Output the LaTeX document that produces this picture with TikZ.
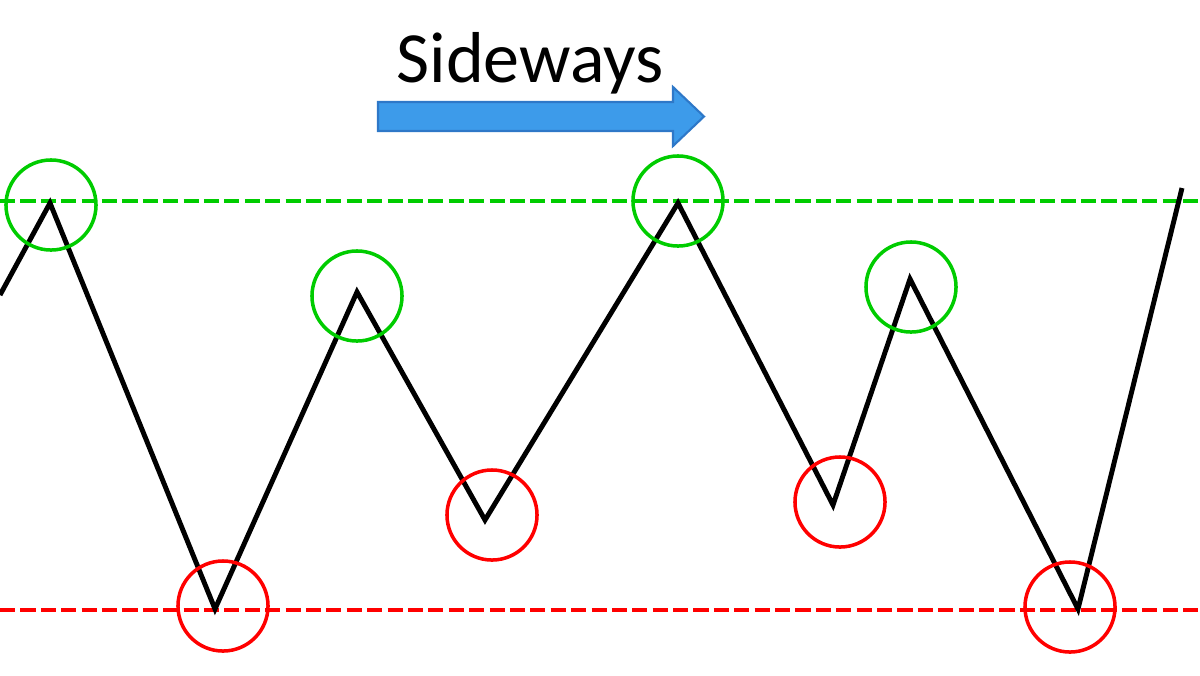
\documentclass[tikz,border=0pt]{standalone}
\usepackage{fontspec}
\setmainfont{Carlito}
\definecolor{hi}{HTML}{00CC00}
\definecolor{lo}{HTML}{FF0000}
\definecolor{arrowfill}{HTML}{3D9BEA}
\definecolor{arrowline}{HTML}{2E78C8}

\begin{document}
\begin{tikzpicture}[x=0.01cm,y=-0.01cm,
    price/.style={line width=1.4pt,line join=miter},
    level/.style={line width=1.15pt,dash pattern=on 4.3pt off 1.5pt},
    ring/.style={circle,line width=1pt,minimum size=0.9cm,inner sep=0pt}]
\useasboundingbox (0,0) rectangle (1200,675);

% support and resistance
\draw[level,hi] (0,201) -- (1200,201);
\draw[level,lo] (0,610) -- (1200,610);

% price path
\coordinate (p0) at (0,295);
\coordinate (h1) at (50,203);
\coordinate (l1) at (215,609);
\coordinate (h2) at (357,292);
\coordinate (l2) at (485,520);
\coordinate (h3) at (678,203);
\coordinate (l3) at (833,505);
\coordinate (h4) at (910,279);
\coordinate (l4) at (1078,609);
\coordinate (p9) at (1182,188);
\draw[price] (p0) -- (h1) -- (l1) -- (h2) -- (l2) -- (h3) -- (l3) -- (h4) -- (l4) -- (p9);

% highs and lows
\node[ring,draw=hi] (c_h1) at (51,205) {};
\node[ring,draw=hi] (c_h2) at (357,296) {};
\node[ring,draw=hi] (c_h3) at (678,201) {};
\node[ring,draw=hi] (c_h4) at (911,287) {};
\node[ring,draw=lo] (c_l1) at (223,606) {};
\node[ring,draw=lo] (c_l2) at (492,515) {};
\node[ring,draw=lo] (c_l3) at (840,502) {};
\node[ring,draw=lo] (c_l4) at (1070,607) {};

% title arrow
\node[font=\fontsize{20.5}{24}\selectfont,inner sep=0pt] (title) at (530,63) {Sideways};
\filldraw[fill=arrowfill,draw=arrowline,line width=0.6pt]
  (378,102) -- (673,102) -- (673,87) -- (704,116.5) -- (673,146) -- (673,131) -- (378,131) -- cycle;
\end{tikzpicture}
\end{document}
